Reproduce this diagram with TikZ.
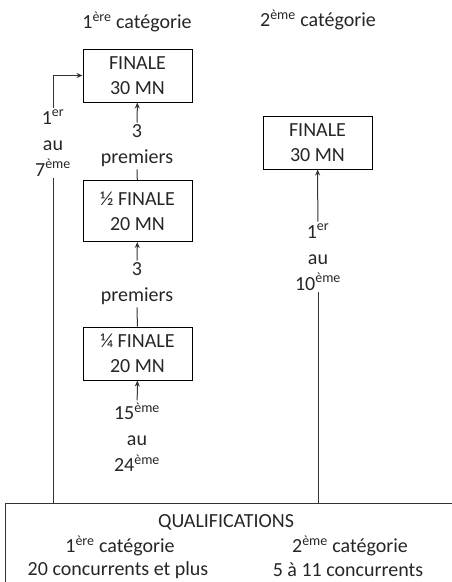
\documentclass[tikz,border=0pt]{standalone}
\usepackage{fontspec}
\setmainfont{Carlito}
\usetikzlibrary{arrows.meta}

\begin{document}
\begin{tikzpicture}[x=1pt, y=-1pt,
    every node/.style={font=\fontsize{20}{25}\selectfont, text=black!85},
    stage/.style={draw, line width=1pt, minimum width=109pt, align=center, inner sep=0pt},
    rank/.style={align=center, inner sep=2pt, font=\fontsize{20}{26}\selectfont},
    link/.style={draw=black!80, line width=1pt},
    up/.style={link, -{Stealth[length=6pt, width=5pt]}},
]
\useasboundingbox (0,0) rectangle (452,582);
\node (cat1) at (137,22) {1\textsuperscript{ère} catégorie};
\node (cat2) at (318,20) {2\textsuperscript{ème} catégorie};

\node[stage, minimum height=53pt] (fin1) at (137.5,75.5) {FINALE\\30 MN};
\node[stage, minimum height=61pt] (demi) at (137.5,211) {½ FINALE\\20 MN};
\node[stage, minimum height=53pt] (quart) at (137.5,353.5) {¼ FINALE\\20 MN};
\node[stage, minimum height=53pt] (fin2) at (317.5,142.5) {FINALE\\30 MN};

\draw[link] (5,590) |- (460,503) coordinate (qtop);
\node (qual) at (226,522) {QUALIFICATIONS};
\node (q1) at (120,546) {1\textsuperscript{ère} catégorie};
\node (q1n) at (118,570) {20 concurrents et plus};
\node (q2) at (350,546) {2\textsuperscript{ème} catégorie};
\node (q2n) at (348,570) {5 à 11 concurrents};

\node[rank] (p1) at (137,146) {3\\premiers};
\node[rank] (p2) at (137,284) {3\\premiers};
\node[rank] (r3) at (137,437) {15\textsuperscript{ème}\\au\\24\textsuperscript{ème}};
\node[rank] (r1) at (53,143) {1\textsuperscript{er}\\au\\7\textsuperscript{ème}};
\node[rank] (r2) at (318,257) {1\textsuperscript{er}\\au\\10\textsuperscript{ème}};

\draw[up] (p1) -- (fin1);
\draw[link] (p1) -- (demi);
\draw[up] (p2) -- (demi);
\draw[link] (p2) -- (quart);
\draw[up] (r3) -- (quart);
\draw[up] (r1) |- (fin1.west);
\draw[link] (r1) -- (r1 |- qtop);
\draw[up] (r2) -- (fin2);
\draw[link] (r2) -- (r2 |- qtop);
\end{tikzpicture}
\end{document}
